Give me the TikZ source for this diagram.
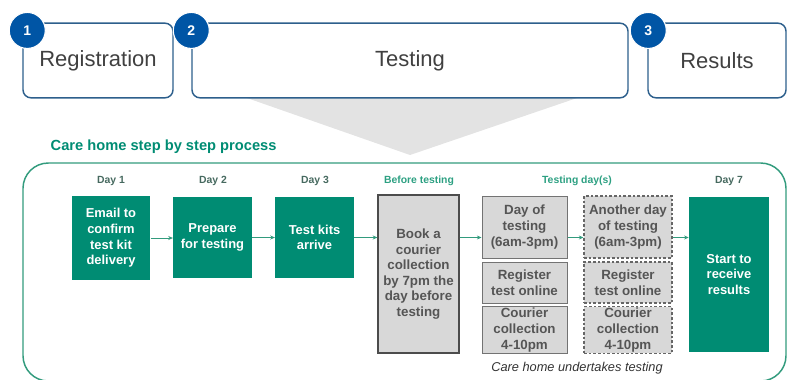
\documentclass[tikz,border=0pt]{standalone}
\usepackage{fontspec}
\setmainfont{Liberation Sans}
\usepackage{tikz}
\usetikzlibrary{arrows.meta, positioning, calc}
\usepackage{xcolor}
\definecolor{caregreen}{RGB}{0,140,115}
\definecolor{framegreen}{RGB}{50,155,125}
\definecolor{lightgreen}{RGB}{45,160,130}
\definecolor{daygray}{RGB}{70,105,95}
\definecolor{stepblue}{RGB}{0,85,165}
\definecolor{stageline}{RGB}{45,95,140}
\definecolor{boxgray}{RGB}{216,216,216}
\definecolor{textgray}{RGB}{85,85,85}

\begin{document}
\begin{tikzpicture}[x=0.75pt, y=-0.75pt,
    stage/.style={draw=stageline, line width=1.1pt, rounded corners=6pt,
      minimum height=56pt, font=\fontsize{16.5}{18}\selectfont, text=black!75},
    stepnum/.style={circle, fill=stepblue, draw=white, line width=0.8pt,
      minimum size=27pt, inner sep=0pt, text=white,
      font=\fontsize{10.5}{12}\selectfont\bfseries},
    greenbox/.style={fill=caregreen, text=white, align=center,
      minimum width=59pt, inner sep=1pt,
      font=\fontsize{9.7}{11.7}\selectfont\bfseries},
    graybox/.style={fill=boxgray, text=textgray, align=center, inner sep=1pt,
      font=\fontsize{10}{11.7}\selectfont\bfseries},
    solidgray/.style={graybox, draw=black!55, line width=0.75pt},
    dashgray/.style={graybox, draw=black!60, line width=0.8pt,
      dash pattern=on 2pt off 1.5pt},
    daylabel/.style={font=\fontsize{7.8}{9}\selectfont\bfseries, text=daygray},
    flow/.style={-{Stealth[length=3.5pt,width=3pt]}, draw=framegreen, line width=0.5pt}]
        \clip (0,0) rectangle (787,379);
        % Funnel under the testing stage
        \fill[gray!22] (247,98) -- (577,98) -- (410,155) -- cycle;
        % Stages
        \node[stage, minimum width=112.5pt] (registration) at (98,60.5) {Registration};
        \node[stage, minimum width=327pt] (testing) at (410,60.5) {Testing};
        \node[stage, minimum width=103.5pt] (results) at (717,60.5) {Results};
        \node[stepnum] (num1) at ($(registration.north west)+(5,8)$) {1};
        \node[stepnum] (num2) at ($(testing.north west)+(0,8)$) {2};
        \node[stepnum] (num3) at ($(results.north west)+(1,8)$) {3};
        % Process frame
        \draw[framegreen, line width=1.1pt, rounded corners=19pt] (23,163) rectangle (786,381);
        \node[anchor=west, text=caregreen, font=\fontsize{11}{13}\selectfont\bfseries]
          (title) at (46,147) {Care home step by step process};
        % Day headings
        \node[daylabel] (day1) at (111,181) {Day 1};
        \node[daylabel] (day2) at (213,181) {Day 2};
        \node[daylabel] (day3) at (315,181) {Day 3};
        \node[daylabel, text=lightgreen] (daybefore) at (419,181) {Before testing};
        \node[daylabel, text=lightgreen] (daytest) at (577,181) {Testing day(s)};
        \node[daylabel] (day7) at (729,181) {Day 7};
        % Steps
        \node[greenbox, minimum height=63pt] (email) at (111,238) {Email to\\confirm\\test kit\\delivery};
        \node[greenbox, minimum height=61pt] (prepare) at (212.5,237.5) {Prepare\\for testing};
        \node[greenbox, minimum height=61pt] (kits) at (314.5,237.5) {Test kits\\arrive};
        \node[graybox, draw=black!70, line width=0.9pt, minimum width=60.75pt, minimum height=118.5pt]
          (book) at (418.5,274) {Book a\\courier\\collection\\by 7pm the\\day before\\testing};
        % Testing day columns
        \node[solidgray, minimum width=63.75pt, minimum height=46.5pt] (dayof) at (524.5,227) {Day of\\testing\\(6am-3pm)};
        \node[solidgray, minimum width=63.75pt, minimum height=30.75pt] (register) at (524.5,282.5) {Register\\test online};
        \node[solidgray, minimum width=63.75pt, minimum height=34.5pt] (courier) at (524.5,330) {Courier\\collection\\4-10pm};
        \node[dashgray, minimum width=66pt, minimum height=46.5pt] (another) at (628,227) {Another day\\of testing\\(6am-3pm)};
        \node[dashgray, minimum width=66pt, minimum height=30.75pt] (register2) at (628,282.5) {Register\\test online};
        \node[dashgray, minimum width=66pt, minimum height=34.5pt] (courier2) at (628,330) {Courier\\collection\\4-10pm};
        \node[greenbox, minimum width=60pt, minimum height=116pt] (receive) at (729,274.5) {Start to\\receive\\results};
        % Arrows
        \draw[flow] (email.east) -- (email.east -| prepare.west);
        \draw[flow] (prepare.east) -- (prepare.east -| kits.west);
        \draw[flow] (kits.east) -- (kits.east -| book.west);
        \draw[flow] (book.east |- kits.east) -- (kits.east -| dayof.west);
        \draw[flow] (dayof.east |- kits.east) -- (kits.east -| another.west);
        \draw[flow] (another.east |- kits.east) -- (kits.east -| receive.west);
        % Caption
        \node[font=\fontsize{9.6}{11}\selectfont\itshape, text=black!80] (caption) at (577,368)
          {Care home undertakes testing};
      \end{tikzpicture}
\end{document}
